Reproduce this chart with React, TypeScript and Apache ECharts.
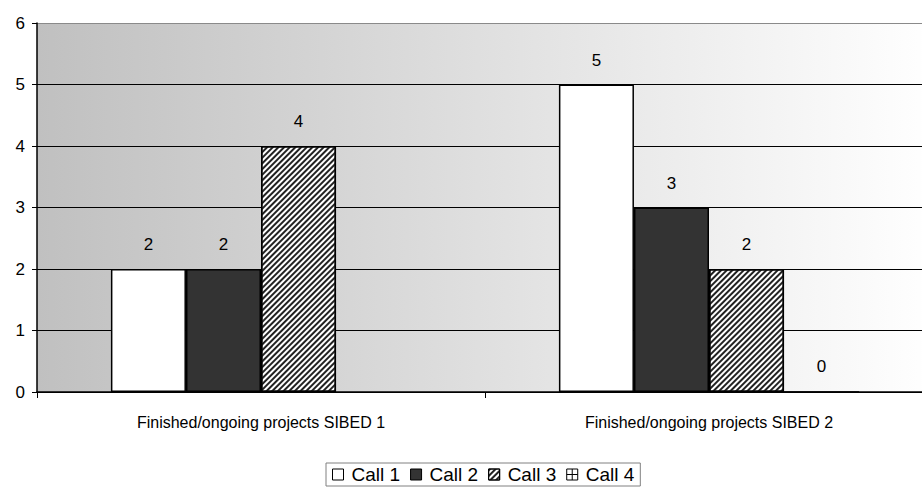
import React, { useEffect, useRef } from "react";
import * as echarts from "echarts";

const categories = ["Finished/ongoing projects SIBED 1", "Finished/ongoing projects SIBED 2"];
const call1 = [2, 5];
const call2 = [2, 3];
const call3 = [4, 2];
const call4: (number | string)[] = ["-", 0];
const seriesNames = ["Call 1", "Call 2", "Call 3", "Call 4"];
const yTicks = [0, 1, 2, 3, 4, 5, 6];

const FONT = "'Liberation Sans', Arial, sans-serif";

export default function App() {
  const ref = useRef<HTMLDivElement>(null);
  useEffect(() => {
    if (!ref.current) return;
    const chart = echarts.init(ref.current, undefined, { renderer: "svg" });
    const label = {
      show: true,
      position: "top" as const,
      distance: 16,
      color: "#000",
      fontSize: 17,
      fontFamily: FONT,
    };
    const border = { borderColor: "#000", borderWidth: 1.5 };
    const splitColors = yTicks.map((_, i) => (i === yTicks.length - 1 ? "#8a8a8a" : "#000"));
    chart.setOption({
      animation: false,
      textStyle: { fontFamily: FONT },
      grid: {
        left: 37,
        top: 23,
        width: 896,
        height: 369,
        outerBoundsMode: "none",
        containLabel: false,
        show: true,
        borderWidth: 0,
        backgroundColor: new echarts.graphic.LinearGradient(0, 0, 1, 0, [
          { offset: 0, color: "#c0c0c0" },
          { offset: 1, color: "#ffffff" },
        ]),
      },
      legend: {
        top: 463,
        left: 326,
        data: [
          { name: seriesNames[0] },
          { name: seriesNames[1] },
          { name: seriesNames[2] },
          {
            name: seriesNames[3],
            icon: "path://M0 0H10V10H0Z M5 0V10 M0 5H10",
            itemStyle: { color: "#ffffff", borderColor: "#000", borderWidth: 1, decal: "none" },
          },
        ],
        itemWidth: 11,
        itemHeight: 11,
        itemGap: 10,
        padding: [2, 6],
        borderColor: "#808080",
        borderWidth: 1,
        borderRadius: 0,
        textStyle: { fontSize: 19, color: "#000", fontFamily: FONT, padding: [0, 0, 0, 3] },
        icon: "rect",
        itemStyle: { borderColor: "#000", borderWidth: 1 },
      },
      xAxis: {
        type: "category",
        data: categories,
        axisLine: { lineStyle: { color: "#000", width: 1.5 } },
        axisTick: { show: true, length: 6, lineStyle: { color: "#000" } },
        axisLabel: { fontSize: 16, color: "#000", margin: 22, fontFamily: FONT },
      },
      yAxis: {
        type: "value",
        min: yTicks[0],
        max: yTicks[yTicks.length - 1],
        interval: 1,
        axisLine: { show: true, lineStyle: { color: "#000", width: 1.5 } },
        axisTick: { show: true, length: 5, lineStyle: { color: "#000" } },
        axisLabel: { fontSize: 17, color: "#000", margin: 12, fontFamily: FONT },
        splitLine: { lineStyle: { color: splitColors, width: 1 } },
      },
      series: [
        {
          name: seriesNames[0],
          type: "bar",
          data: call1,
          barGap: "0%",
          barCategoryGap: "33%",
          itemStyle: { color: "#ffffff", ...border },
          label,
        },
        {
          name: seriesNames[1],
          type: "bar",
          data: call2,
          itemStyle: { color: "#333333", ...border },
          label,
        },
        {
          name: seriesNames[2],
          type: "bar",
          data: call3,
          itemStyle: {
            color: "#ffffff",
            ...border,
            decal: {
              symbol: "rect",
              color: "#222222",
              dashArrayX: [1, 0],
              dashArrayY: [2, 2],
              rotation: -Math.PI / 4,
              symbolSize: 1,
            },
          },
          label,
        },
        {
          name: seriesNames[3],
          type: "bar",
          data: call4,
          itemStyle: { color: "#ffffff", ...border },
          label,
        },
      ],
    });
    return () => chart.dispose();
  }, []);
  return <div ref={ref} style={{ position: "absolute", left: 0, top: 0, width: 922, height: 497 }} />;
}
